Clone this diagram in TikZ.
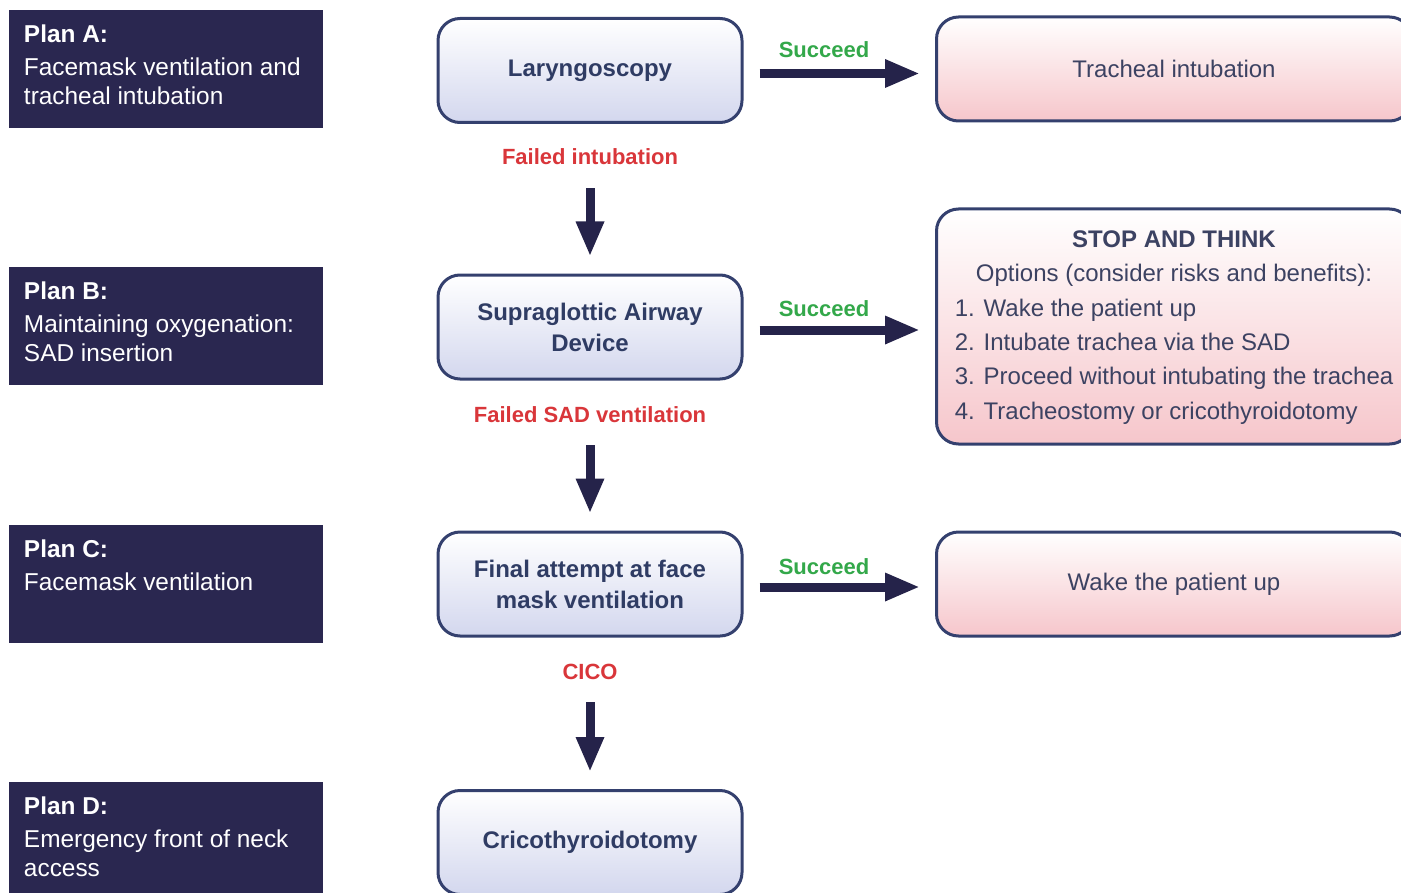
\documentclass[tikz,border=0pt]{standalone}
\usepackage{fontspec}
\setmainfont{Liberation Sans}
\usepackage{xcolor}
\usetikzlibrary{positioning, arrows.meta}
\definecolor{planblue}{HTML}{2A2750}
\definecolor{arrowblue}{HTML}{25234A}
\definecolor{edgeblue}{HTML}{34406E}
\definecolor{actionblue}{HTML}{D3D7EE}
\definecolor{actiontxt}{HTML}{2F3C64}
\definecolor{outcomepink}{HTML}{F6C6CB}
\definecolor{outcometxt}{HTML}{3C4262}
\definecolor{failred}{HTML}{D9363A}
\definecolor{okgreen}{HTML}{33A84A}
\newcommand{\plancolor}{planblue}
\newcommand{\actioncolor}{actionblue}
\newcommand{\outcomecolor}{outcomepink}

\begin{document}
\begin{tikzpicture}[
      % GLOBAL CFG
      x=0.5pt, y=-0.5pt,
      font=\fontsize{12}{15.5}\selectfont,
      >={Triangle[length=17.5pt,width=13pt]},
      % Styles
      plan/.style={% For the plans on the left
        rectangle,
        fill=\plancolor,
        minimum width=157pt,
        minimum height=59pt,
        inner sep=0pt
      },
      plantext/.style={% For the text of a plan
        text=white,
        align=left,
        anchor=north west,
        inner sep=0pt,
        font=\fontsize{12.2}{14.5}\selectfont
      },
      action/.style={% For the steps in the middle
        rectangle,
        rounded corners=11pt,
        draw=edgeblue,
        line width=1.5pt,
        top color=white,
        bottom color=\actioncolor,
        minimum width=152pt,
        minimum height=52pt,
        align=center,
        text=actiontxt,
        font=\bfseries\fontsize{12}{15.5}\selectfont
      },
      outcome/.style={% For the results on the right
        rectangle,
        rounded corners=11pt,
        draw=edgeblue,
        line width=1.5pt,
        top color=white,
        bottom color=\outcomecolor,
        minimum width=237.5pt,
        minimum height=52pt,
        align=center,
        text=outcometxt,
        font=\fontsize{12}{17.2}\selectfont
      },
      fail/.style={% Labels for failure
        text=failred,
        inner sep=0pt,
        text height=8pt,
        text depth=0pt,
        font=\bfseries\fontsize{11}{13}\selectfont
      },
      ok/.style={% Labels for success
        text=okgreen,
        inner sep=0pt,
        text height=8pt,
        text depth=0pt,
        font=\bfseries\fontsize{11}{13}\selectfont
      },
      arrowmain/.style={% Thick arrows
        ->,
        line width=4.5pt,
        draw=arrowblue
      }
      ]

      \useasboundingbox (0,0) rectangle (1401,893);
      \clip (0,0) rectangle (1401,893);

      % The plans:
      \node [plan] (planA) at (166,69) {};
      \node [plantext] (planAtext) at ([shift={(15,15)}]planA.north west)
        {\textbf{Plan A:}\\[2pt]Facemask ventilation and\\tracheal intubation};
      \node [plan] (planB) at (166,326) {};
      \node [plantext] (planBtext) at ([shift={(15,15)}]planB.north west)
        {\textbf{Plan B:}\\[2pt]Maintaining oxygenation:\\SAD insertion};
      \node [plan] (planC) at (166,584) {};
      \node [plantext] (planCtext) at ([shift={(15,15)}]planC.north west)
        {\textbf{Plan C:}\\[2pt]Facemask ventilation};
      \node [plan] (planD) at (166,841) {};
      \node [plantext] (planDtext) at ([shift={(15,15)}]planD.north west)
        {\textbf{Plan D:}\\[2pt]Emergency front of neck\\access};

      % The steps:
      \node [action] (lary) at (590,70.5) {Laryngoscopy};
      \node [action] (sad) at (590,327) {Supraglottic Airway\\Device};
      \node [action] (final) at (590,584) {Final attempt at face\\mask ventilation};
      \node [action] (crico) at (590,842.5) {Cricothyroidotomy};

      % The results:
      \node [outcome] (tracheal) at (1174,69) {Tracheal intubation};
      \node [outcome, minimum height=117.5pt] (think) at (1174,326.5) {%
        \raisebox{-1pt}{\begin{tabular}{@{}l@{}}
          \multicolumn{1}{@{}c@{}}{\textbf{STOP AND THINK}}\\
          \multicolumn{1}{@{}c@{}}{Options (consider risks and benefits):}\\
          1. Wake the patient up\\
          2. Intubate trachea via the SAD\\
          3. Proceed without intubating the trachea\\
          4. Tracheostomy or cricothyroidotomy
        \end{tabular}}};
      \node [outcome] (wake) at (1174,584) {Wake the patient up};

      % Failure paths:
      \node [fail] (failA) at (590,157) {Failed intubation};
      \node [fail] (failB) at (590,414) {Failed SAD ventilation};
      \node [fail] (failC) at (590,671) {CICO};
      \draw [arrowmain, shorten <=11.5pt, shorten >=8.5pt] (failA) -- (sad);
      \draw [arrowmain, shorten <=11.5pt, shorten >=8.5pt] (failB) -- (final);
      \draw [arrowmain, shorten <=11.5pt, shorten >=8.5pt] (failC) -- (crico);

      % Success paths:
      \node [ok] (okA) at (824,50) {Succeed};
      \node [ok] (okB) at (824,308) {Succeed};
      \node [ok] (okC) at (824,566) {Succeed};
      \draw [arrowmain, shorten <=8pt, shorten >=7.5pt]
        ([yshift=-1.5pt]lary.east) -- ([yshift=-1.5pt]lary.east -| tracheal.west);
      \draw [arrowmain, shorten <=8pt, shorten >=7.5pt]
        ([yshift=-1.5pt]sad.east) -- ([yshift=-1.5pt]sad.east -| think.west);
      \draw [arrowmain, shorten <=8pt, shorten >=7.5pt]
        ([yshift=-1.5pt]final.east) -- ([yshift=-1.5pt]wake.west);

    \end{tikzpicture}
\end{document}
